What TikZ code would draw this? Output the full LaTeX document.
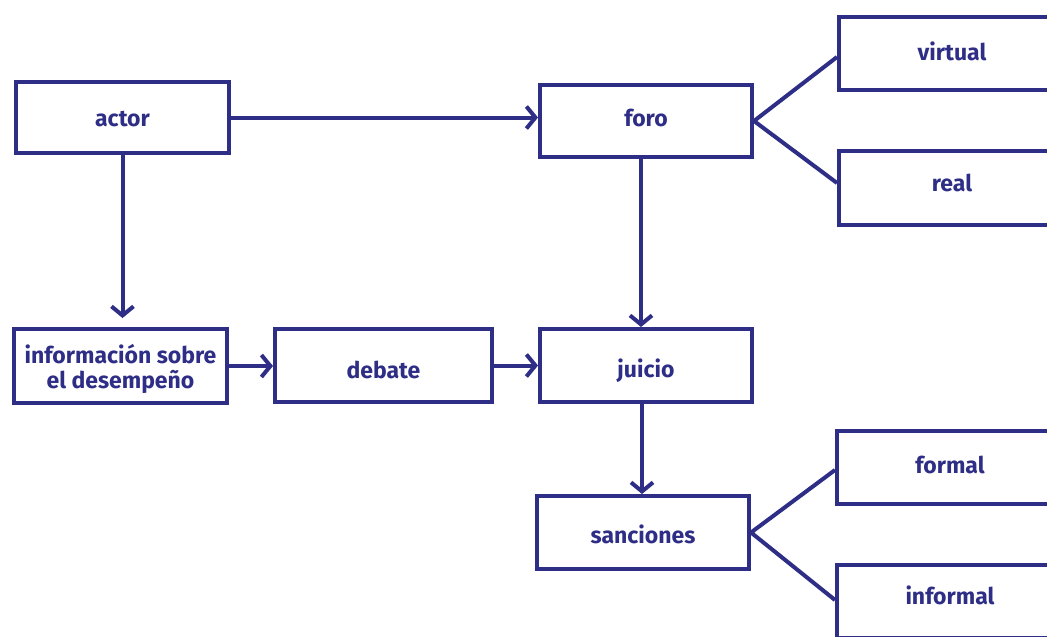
\documentclass[tikz,border=0pt]{standalone}
\usepackage{fontspec}
\setmainfont{Fira Sans}
\usetikzlibrary{arrows.meta}
\definecolor{navy}{RGB}{46,46,134}
\newcommand{\shiftdown}[2]{\raisebox{-#1}[\height][\depth]{#2}}
\tikzset{
  box/.style={draw=navy, line width=4pt, rectangle, inner sep=0pt, text=navy, font=\fontsize{23}{26}\selectfont\bfseries, align=center},
  arr/.style={draw=navy, line width=4pt, -{Straight Barb[length=9pt,width=22pt]}},
  fan/.style={draw=navy, line width=4pt}
}
\begin{document}
\begin{tikzpicture}[x=1pt,y=-1pt]
\fill[white] (0,0) rectangle (1047,637);
\useasboundingbox (0,0) rectangle (1047,637);
\begin{scope}
\clip (0,0) rectangle (1047,637);
\node[box, minimum width=213pt, minimum height=71pt] (actor) at (122.5,117.5) {\shiftdown{2pt}{actor}};
\node[box, minimum width=212pt, minimum height=72pt] (foro) at (646,121) {\shiftdown{-3pt}{foro}};
\node[box, minimum width=226pt, minimum height=73pt] (virtual) at (952,53.5) {\shiftdown{-2.5pt}{virtual}};
\node[box, minimum width=226pt, minimum height=74pt] (real) at (952,188) {\shiftdown{-5.5pt}{real}};
\node[box, minimum width=213pt, minimum height=74pt] (info) at (120.5,366) {\shiftdown{4pt}{\begin{tabular}{@{}c@{}}información sobre\\[-1pt]el desempeño\end{tabular}}};
\node[box, minimum width=217pt, minimum height=73pt] (debate) at (383.5,365.5) {\shiftdown{4pt}{debate}};
\node[box, minimum width=212pt, minimum height=73pt] (juicio) at (646,365.5) {\shiftdown{5pt}{juicio}};
\node[box, minimum width=212pt, minimum height=73pt] (sanciones) at (643,532.5) {\shiftdown{2pt}{sanciones}};
\node[box, minimum width=226pt, minimum height=73pt] (formal) at (950,467.5) {\shiftdown{-2.5pt}{formal}};
\node[box, minimum width=226pt, minimum height=73pt] (informal) at (950,601.5) {\shiftdown{-6pt}{informal}};

\draw[arr] (actor.east) -- (actor.east -| foro.west);
\draw[arr, shorten >=9pt] (actor.south) -- (actor.south |- info.north);
\draw[arr] ([xshift=-5pt]foro.south) -- ([xshift=-5pt]foro.south |- juicio.north);
\draw[arr] (info.east) -- (info.east -| debate.west);
\draw[arr] (debate.east) -- (debate.east -| juicio.west);
\draw[arr] ([xshift=-4pt]juicio.south) -- ([xshift=-4pt]juicio.south |- sanciones.north);

\draw[fan] ([yshift=-3.5pt]virtual.west) -- (foro.east) -- ([yshift=5pt]real.west);
\draw[fan] ([yshift=-2.5pt]formal.west) -- (sanciones.east) -- ([yshift=1.5pt]informal.west);
\end{scope}
\end{tikzpicture}
\end{document}
